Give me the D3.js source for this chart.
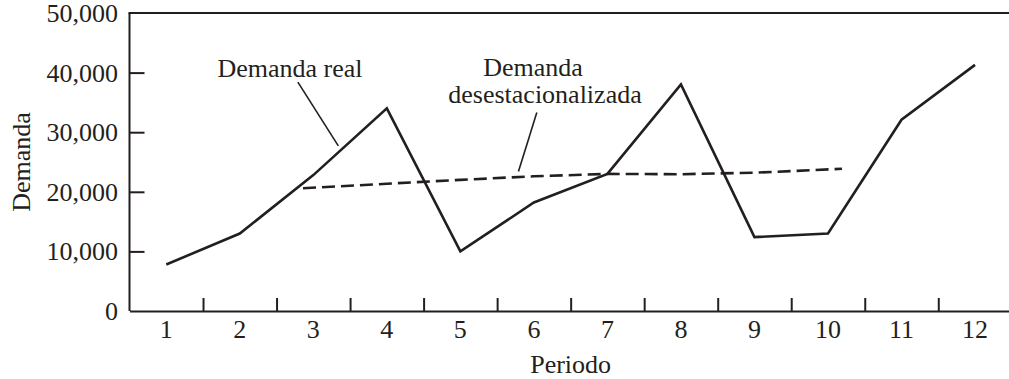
<!DOCTYPE html>
<html>
<head>
<meta charset="utf-8">
<script src="https://cdn.jsdelivr.net/npm/d3@7"></script>
<style>
  body { margin: 0; background: #fff; }
  svg text { font-family: "Liberation Serif", "Times New Roman", serif; fill: #231f20; font-size: 26px; }
</style>
</head>
<body>
<svg id="chart" width="1009" height="379"></svg>
<script>
// data
var periods = [1, 2, 3, 4, 5, 6, 7, 8, 9, 10, 11, 12];
var demandaReal = [7800, 13000, 22800, 34000, 10000, 18200, 23000, 38000, 12400, 13000, 32100, 41300];
// deseasonalized line (its ends sit a little outside periods 3 and 10)
var desestPeriods = [2.86, 4, 5, 6, 7, 8, 9, 10.19];
var desestValues = [20600, 21350, 22000, 22600, 23000, 22950, 23200, 23860];
var yTicks = [0, 10000, 20000, 30000, 40000, 50000];

var ink = "#231f20";
var svg = d3.select("#chart");

var x = d3.scaleLinear().domain([0.5, 12.5]).range([129.5, 1011.8]);
var y = d3.scaleLinear().domain([0, 50000]).range([311, 13]);
var fmt = d3.format(",");

// frame: left, bottom and top lines
svg.append("line").attr("x1", x(0.5)).attr("x2", x(0.5)).attr("y1", y(0)).attr("y2", y(50000))
    .attr("stroke", ink).attr("stroke-width", 2);
svg.append("line").attr("x1", x(0.5) - 1).attr("x2", 1009).attr("y1", y(50000)).attr("y2", y(50000))
    .attr("stroke", ink).attr("stroke-width", 2);

// y axis, ticks pointing inward
var yAxis = svg.append("g")
    .attr("transform", "translate(" + x(0.5) + ",0)")
    .call(d3.axisRight(y).tickValues(yTicks.slice(1, 5)).tickSize(15).tickFormat(""));
yAxis.select(".domain").remove();
yAxis.selectAll("line").attr("stroke", ink).attr("stroke-width", 2);

svg.append("g").selectAll("text")
    .data(yTicks)
    .enter().append("text")
    .attr("x", 118)
    .attr("y", function(d) { return y(d) + 9; })
    .attr("text-anchor", "end")
    .text(function(d) { return fmt(d); });

// x axis: ticks between periods, pointing up
var xAxis = svg.append("g")
    .attr("transform", "translate(0," + y(0) + ")")
    .call(d3.axisTop(x).tickValues(periods.slice(0, 11).map(function(p) { return p + 0.5; }))
        .tickSize(13).tickSizeOuter(0).tickFormat(""));
xAxis.select(".domain").attr("stroke", ink).attr("stroke-width", 2.2);
xAxis.selectAll("line").attr("stroke", ink).attr("stroke-width", 2);

svg.append("g").selectAll("text")
    .data(periods)
    .enter().append("text")
    .attr("x", function(d) { return x(d); })
    .attr("y", 338)
    .attr("text-anchor", "middle")
    .text(function(d) { return d; });

// axis titles
svg.append("text")
    .attr("x", x(6.5))
    .attr("y", 373)
    .attr("text-anchor", "middle")
    .text("Periodo");

svg.append("text")
    .attr("transform", "translate(30," + 162 + ") rotate(-90)")
    .attr("text-anchor", "middle")
    .text("Demanda");

// lines
var realLine = d3.line()
    .x(function(d, i) { return x(periods[i]); })
    .y(function(d) { return y(d); });

svg.append("path")
    .datum(demandaReal)
    .attr("d", realLine)
    .attr("fill", "none")
    .attr("stroke", ink)
    .attr("stroke-width", 2.6)
    .attr("stroke-linejoin", "miter");

var desestLine = d3.line()
    .x(function(d, i) { return x(desestPeriods[i]); })
    .y(function(d) { return y(d); });

svg.append("path")
    .datum(desestValues)
    .attr("d", desestLine)
    .attr("fill", "none")
    .attr("stroke", ink)
    .attr("stroke-width", 2.6)
    .attr("stroke-dasharray", "13,6");

// annotations
svg.append("line")
    .attr("x1", x(2.79)).attr("y1", y(38400))
    .attr("x2", x(3.34)).attr("y2", y(27700))
    .attr("stroke", ink).attr("stroke-width", 1.6);
svg.append("text")
    .attr("x", 290).attr("y", 77)
    .attr("text-anchor", "middle")
    .text("Demanda real");

svg.append("line")
    .attr("x1", x(6.04)).attr("y1", y(33300))
    .attr("x2", x(5.79)).attr("y2", y(23400))
    .attr("stroke", ink).attr("stroke-width", 1.6);
svg.append("text")
    .attr("x", 533).attr("y", 76)
    .attr("text-anchor", "middle")
    .text("Demanda");
svg.append("text")
    .attr("x", 545).attr("y", 103)
    .attr("text-anchor", "middle")
    .text("desestacionalizada");
</script>
</body>
</html>
